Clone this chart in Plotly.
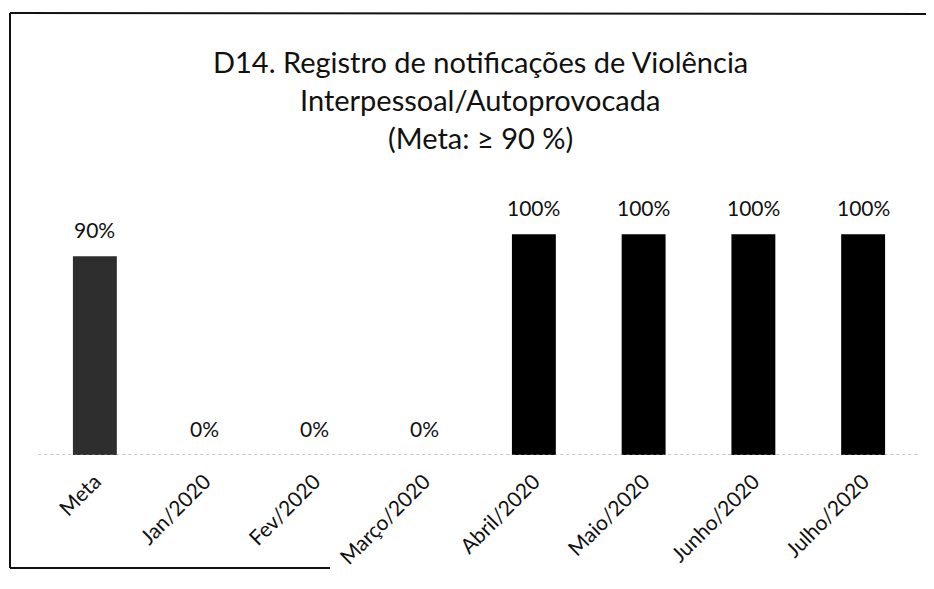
import plotly.graph_objects as go

# data
categories = ["Meta", "Jan/2020", "Fev/2020", "Março/2020",
              "Abril/2020", "Maio/2020", "Junho/2020", "Julho/2020"]
values = [0.90, 0.0, 0.0, 0.0, 1.0, 1.0, 1.0, 1.0]
labels = ["90%", "0%", "0%", "0%", "100%", "100%", "100%", "100%"]
bar_colors = ["#2e2e2e"] + ["#000000"] * 7

title_lines = ["D14. Registro de notificações de Violência",
               "Interpessoal/Autoprovocada",
               "(Meta: ≥ 90 %)"]

FONT = "Lato"

fig = go.Figure()
fig.add_trace(go.Bar(
    x=categories, y=values,
    marker=dict(color=bar_colors, line=dict(width=0)),
))

# value labels sit a bit higher above the bars than plotly's own outside text
for cat, val, lab in zip(categories, values, labels):
    fig.add_annotation(x=cat, y=val, text=lab, showarrow=False,
                       yanchor="bottom", yshift=12,
                       font=dict(family=FONT, size=21, color="#111111"))

# plot area on screen: x 40..918 px, y 190..455 px (page has an 8px body margin)
def px_x(px):
    return (px - 40) / 878

def px_y(py):
    return (455 - py) / 265

for i, line in enumerate(title_lines):
    fig.add_annotation(text=line, x=px_x(480), y=px_y(61 + 38 * i),
                       xref="paper", yref="paper", showarrow=False,
                       xanchor="center", yanchor="middle",
                       font=dict(family=FONT, size=29, color="#111111"))

# dotted baseline
fig.add_shape(type="line", xref="paper", yref="y", x0=-0.002, x1=1.0, y0=0, y1=0,
              line=dict(color="#8a8a8a", width=1, dash="dot"))

# scanned frame: left, top, partial bottom
frame = dict(color="#111111", width=2)
fig.add_shape(type="line", xref="paper", yref="paper",
              x0=px_x(10), x1=px_x(10), y0=px_y(13), y1=px_y(568), line=frame)
fig.add_shape(type="line", xref="paper", yref="paper",
              x0=px_x(10), x1=px_x(940), y0=px_y(13), y1=px_y(14), line=frame)
fig.add_shape(type="line", xref="paper", yref="paper",
              x0=px_x(10), x1=px_x(330), y0=px_y(568), y1=px_y(568), line=frame)

fig.update_layout(
    width=934, height=589,
    margin=dict(l=32, r=24, t=182, b=142),
    paper_bgcolor="white", plot_bgcolor="white",
    showlegend=False, bargap=0.6,
    font=dict(family=FONT, color="#111111"),
)
fig.update_xaxes(tickangle=-45, showline=False, showgrid=False,
                 ticks="outside", ticklen=5, tickcolor="white", automargin=False,
                 tickfont=dict(family=FONT, size=21, color="#111111"))
fig.update_yaxes(range=[0, 1.2], visible=False, showgrid=False)

fig.write_html("out.html")
